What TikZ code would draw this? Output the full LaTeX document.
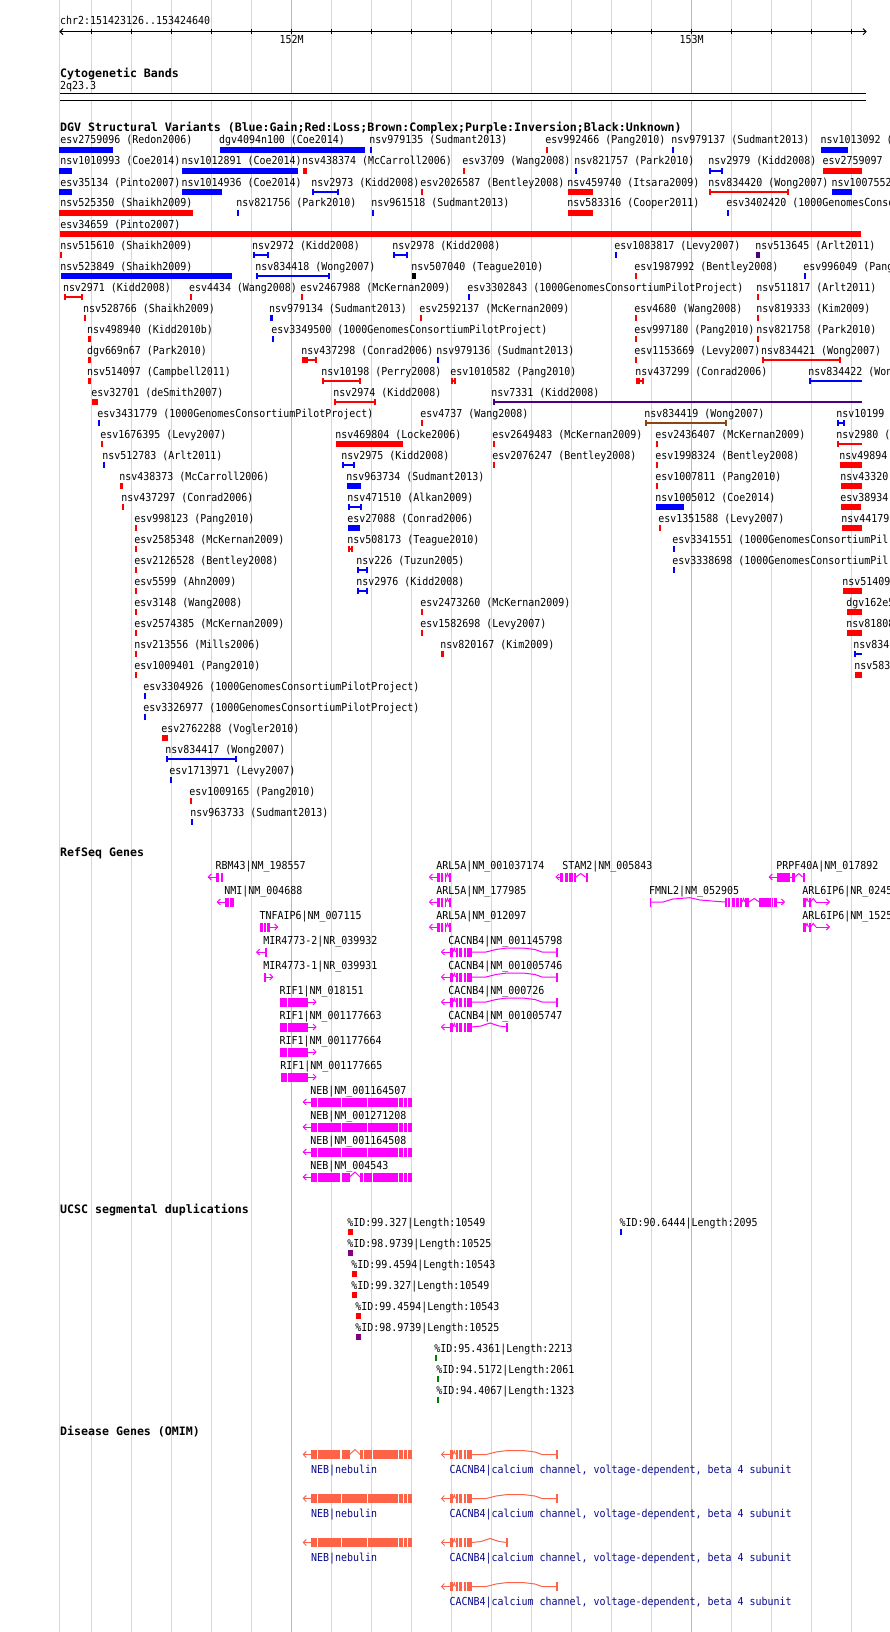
\documentclass[tikz,border=0pt]{standalone}
\usepackage{fontspec}
\newfontfamily\lblfont[FakeStretch=0.906]{DejaVu Sans Mono}
\newfontfamily\hdrfont{DejaVu Sans Mono}
\definecolor{gridc}{RGB}{170,232,240}
\definecolor{gridm}{RGB}{135,200,228}
\definecolor{dgvpurple}{RGB}{75,0,130}
\definecolor{dgvbrown}{RGB}{139,69,19}
\definecolor{sdpurple}{RGB}{128,0,128}
\definecolor{sdgreen}{RGB}{0,128,0}
\definecolor{omimc}{RGB}{255,99,71}
\definecolor{omimtxt}{RGB}{10,10,140}
\definecolor{genec}{RGB}{255,0,255}
\tikzset{
 lbl/.style={inner sep=0pt, anchor=base west, font=\lblfont\fontsize{11}{13}\selectfont},
 hdr/.style={inner sep=0pt, anchor=base west, font=\hdrfont\bfseries\fontsize{11.6}{13}\selectfont},
 gridline/.style={draw=gridc, line width=1pt},
 majorgrid/.style={draw=gridm, line width=1pt},
 genestyle/.style={genec, line width=1pt},
 omimstyle/.style={omimc, line width=1pt},
}
% DGV helpers: row, x, text / color,row,x1,x2
\newcommand\DL[3]{\node[lbl] at (#2,{144+21*#1}) {#3};}
\newcommand\DB[4]{\fill[#1] (#3,{147+21*#2}) rectangle (#4,{153+21*#2});}
\newcommand\DC[4]{\fill[#1] (#3,{149.3+21*#2}) rectangle (#4,{150.7+21*#2});
 \fill[#1] (#3,{147+21*#2}) rectangle ({#3+2},{153+21*#2});
 \fill[#1] ({#4-2},{147+21*#2}) rectangle (#4,{153+21*#2});}
\newcommand\DCL[4]{\fill[#1] (#3,{149.3+21*#2}) rectangle (#4,{150.7+21*#2});
 \fill[#1] (#3,{147+21*#2}) rectangle ({#3+2},{153+21*#2});}
% gene glyph helpers (inside a shifted scope, y=0 is glyph centre)
\newcommand\ex[2]{\fill (#1,-4.5) rectangle (#2,4.5);}
\newcommand\il[2]{\draw (#1,0) -- (#2,0);}
\newcommand\ltip[1]{\draw (#1+3,-3) -- (#1,0) -- (#1+3,3);}
\newcommand\rtip[1]{\draw (#1-3,-3) -- (#1,0) -- (#1-3,3);}
\newcommand\chev[2]{\draw (#1,0) -- ({(#1+#2)/2},-3.5) -- (#2,0);}
\newcommand\GS[3]{\begin{scope}[shift={(0,#2)},#1]#3\end{scope}}
\newcommand\ARLfive{\il{429.5}{437}\ltip{429.5}\ex{437}{439.5}\ex{440.5}{443}\ex{444.5}{446}\chev{446}{449}\ex{449}{450.5}}
\newcommand\CACNexons{\il{441.5}{449.5}\ltip{441.5}\ex{449.5}{453}\chev{453}{455.5}\ex{455.5}{457.5}\ex{459}{462}\ex{463.5}{466}\ex{467}{471.5}}
\newcommand\CACNlong{\CACNexons\draw (471.5,0) -- (486,0) -- (496,-2.5) -- (507,-4) -- (523,-4) -- (535,-2.5) -- (542,0) -- (557.5,0);\ex{556}{557.5}}
\newcommand\CACNshort{\CACNexons\draw (471.5,0) -- (481,-1) -- (490,-4) -- (499,-1) -- (507.5,0);\ex{506}{507.5}}
\newcommand\RIFone[1]{\ex{#1}{286.7}\ex{287.7}{308}\il{308}{316}\rtip{316}}
\newcommand\NEBfull{\il{303.3}{311}\ltip{303.3}\foreach \a/\b in {311/317,318/340.5,341.5/366.5,367.5/398,399/403,404/407,408/412}{\ex{\a}{\b}}}
\newcommand\NEBalt{\il{303.3}{311}\ltip{303.3}\foreach \a/\b in {311/316.5,317.5/340,341.5/349.5,360/363,364/371.5,372.5/398,399/403,404/407,408/412}{\ex{\a}{\b}}\draw (349.5,0) -- (355,-5) -- (360,0);}
\newcommand\SL[3]{\node[lbl] at (#2,{1226+21*#1}) {#3};}
\newcommand\SB[4]{\fill[#1] (#3,{1229.3+21*#2}) rectangle (#4,{1234.8+21*#2});}
\begin{document}
\begin{tikzpicture}[x=1pt,y=-1pt]
\useasboundingbox (0,0) rectangle (890,1632);
\fill[white] (0,0) rectangle (890,1632);
% grid
\draw[gridline] (59.5,0) -- (59.5,1632);
\foreach \k in {0,...,19} {\pgfmathsetmacro\gx{91.5+40*\k}\draw[gridline] (\gx,0) -- (\gx,1632);}
\draw[majorgrid] (291.5,0) -- (291.5,1632);
\draw[majorgrid] (691.5,0) -- (691.5,1632);
% ruler
\node[lbl] (chrlbl) at (60,25) {chr2:151423126..153424640};
\draw[line width=1pt] (60,31.7) -- (866,31.7);
\draw[line width=1pt] (63,28.7) -- (60,31.7) -- (63,34.7);
\draw[line width=1pt] (863,28.7) -- (866,31.7) -- (863,34.7);
\foreach \k in {0,...,19} {\pgfmathsetmacro\gx{91.5+40*\k}\draw[line width=1pt] (\gx,29.2) -- (\gx,34.2);}
\node[lbl,anchor=base] (m152) at (291.5,44) {152M};
\node[lbl,anchor=base] (m153) at (691.5,44) {153M};
% cytogenetic
\node[hdr] (cythdr) at (60,78) {Cytogenetic Bands};
\node[lbl] (band) at (60,89.3) {2q23.3};
\fill[white] (60,93.8) rectangle (866,100.2);
\draw[line width=1.2pt] (60,93.8) -- (866,93.8);
\draw[line width=1.2pt] (60,100.2) -- (866,100.2);
% DGV
\node[hdr] (dgvhdr) at (60,131.5) {DGV Structural Variants (Blue:Gain;Red:Loss;Brown:Complex;Purple:Inversion;Black:Unknown)};
\DL{0}{60.2}{esv2759096 (Redon2006)}\DB{blue}{0}{59.3}{113}
\DL{0}{218.8}{dgv4094n100 (Coe2014)}\DB{blue}{0}{220}{365}
\DL{0}{369.2}{nsv979135 (Sudmant2013)}\DB{blue}{0}{370}{372}
\DL{0}{545.2}{esv992466 (Pang2010)}\DB{red}{0}{546}{548}
\DL{0}{671.2}{nsv979137 (Sudmant2013)}\DB{blue}{0}{672}{674}
\DL{0}{820.5}{nsv1013092 (}\DB{blue}{0}{821}{848}
\DL{1}{60.2}{nsv1010993 (Coe2014)}\DB{blue}{1}{59.3}{72}
\DL{1}{181.5}{nsv1012891 (Coe2014)}\DB{blue}{1}{182}{298}
\DL{1}{301.8}{nsv438374 (McCarroll2006)}\DB{red}{1}{303}{307}
\DL{1}{462.2}{esv3709 (Wang2008)}\DB{red}{1}{463}{465}
\DL{1}{574.2}{nsv821757 (Park2010)}\DB{blue}{1}{575}{577}
\DL{1}{708.2}{nsv2979 (Kidd2008)}\DC{blue}{1}{709}{723}
\DL{1}{822.5}{esv2759097}\DB{red}{1}{823}{862}
\DL{2}{60.2}{esv35134 (Pinto2007)}\DB{blue}{2}{59.3}{72}
\DL{2}{181.5}{nsv1014936 (Coe2014)}\DB{blue}{2}{182}{222}
\DL{2}{311.2}{nsv2973 (Kidd2008)}\DC{blue}{2}{312}{339}
\DL{2}{420.2}{esv2026587 (Bentley2008)}\DB{red}{2}{421}{423}
\DL{2}{567.2}{nsv459740 (Itsara2009)}\DB{red}{2}{568}{593}
\DL{2}{708.2}{nsv834420 (Wong2007)}\DC{red}{2}{709}{789}
\DL{2}{831.5}{nsv1007552}\DB{blue}{2}{832}{852}
\DL{3}{60.2}{nsv525350 (Shaikh2009)}\DB{red}{3}{59.3}{193}
\DL{3}{236.2}{nsv821756 (Park2010)}\DB{blue}{3}{237}{239}
\DL{3}{371.2}{nsv961518 (Sudmant2013)}\DB{blue}{3}{372}{374}
\DL{3}{567.2}{nsv583316 (Cooper2011)}\DB{red}{3}{568}{593}
\DL{3}{726.2}{esv3402420 (1000GenomesConso}\DB{blue}{3}{727}{729}
\DL{4}{60.2}{esv34659 (Pinto2007)}\DB{red}{4}{60}{860.7}
\DL{5}{60.2}{nsv515610 (Shaikh2009)}\DB{red}{5}{60}{62}
\DL{5}{251.8}{nsv2972 (Kidd2008)}\DC{blue}{5}{253}{269}
\DL{5}{392.2}{nsv2978 (Kidd2008)}\DC{blue}{5}{393}{408}
\DL{5}{614.2}{esv1083817 (Levy2007)}\DB{blue}{5}{615}{617}
\DL{5}{755.2}{nsv513645 (Arlt2011)}\DB{dgvpurple}{5}{756}{760}
\DL{6}{60.2}{nsv523849 (Shaikh2009)}\DB{blue}{6}{61}{232}
\DL{6}{255.2}{nsv834418 (Wong2007)}\DC{blue}{6}{256}{330}
\DL{6}{411.2}{nsv507040 (Teague2010)}\DB{black}{6}{412}{416}
\DL{6}{634.2}{esv1987992 (Bentley2008)}\DB{red}{6}{635}{637}
\DL{6}{803.2}{esv996049 (Pang}\DB{blue}{6}{804}{806}
\DL{7}{62.8}{nsv2971 (Kidd2008)}\DC{red}{7}{64}{83}
\DL{7}{188.8}{esv4434 (Wang2008)}\DB{red}{7}{190}{192}
\DL{7}{300.2}{esv2467988 (McKernan2009)}\DB{red}{7}{301}{303}
\DL{7}{467.2}{esv3302843 (1000GenomesConsortiumPilotProject)}\DB{blue}{7}{468}{470}
\DL{7}{756.2}{nsv511817 (Arlt2011)}\DB{red}{7}{757}{759}
\DL{8}{82.8}{nsv528766 (Shaikh2009)}\DB{red}{8}{84}{86}
\DL{8}{268.8}{nsv979134 (Sudmant2013)}\DB{blue}{8}{270}{273}
\DL{8}{419.2}{esv2592137 (McKernan2009)}\DB{red}{8}{420}{422}
\DL{8}{634.2}{esv4680 (Wang2008)}\DB{red}{8}{635}{637}
\DL{8}{756.2}{nsv819333 (Kim2009)}\DB{red}{8}{757}{759}
\DL{9}{86.8}{nsv498940 (Kidd2010b)}\DB{red}{9}{88}{91}
\DL{9}{271.2}{esv3349500 (1000GenomesConsortiumPilotProject)}\DB{blue}{9}{272}{274}
\DL{9}{634.2}{esv997180 (Pang2010)}\DB{red}{9}{635}{637}
\DL{9}{756.2}{nsv821758 (Park2010)}\DB{red}{9}{757}{759}
\DL{10}{86.8}{dgv669n67 (Park2010)}\DB{red}{10}{88}{91}
\DL{10}{301.2}{nsv437298 (Conrad2006)}\DB{red}{10}{302}{308}\DC{red}{10}{302}{317}
\DL{10}{436.2}{nsv979136 (Sudmant2013)}\DB{blue}{10}{437}{439}
\DL{10}{634.2}{esv1153669 (Levy2007)}\DB{red}{10}{635}{637}
\DL{10}{760.8}{nsv834421 (Wong2007)}\DC{red}{10}{762}{840.7}
\DL{11}{86.8}{nsv514097 (Campbell2011)}\DB{red}{11}{88}{91}
\DL{11}{321.2}{nsv10198 (Perry2008)}\DC{red}{11}{322}{361}
\DL{11}{450.2}{esv1010582 (Pang2010)}\DC{red}{11}{451}{456}
\DL{11}{635.2}{nsv437299 (Conrad2006)}\DB{red}{11}{636}{640}\DC{red}{11}{636}{644}
\DL{11}{808.2}{nsv834422 (Won}\DCL{blue}{11}{809}{862}
\DL{12}{91.2}{esv32701 (deSmith2007)}\DB{red}{12}{92}{98}
\DL{12}{333.2}{nsv2974 (Kidd2008)}\DC{red}{12}{334}{376}
\DL{12}{491.2}{nsv7331 (Kidd2008)}\DCL{dgvpurple}{12}{492.7}{862}
\DL{13}{97.2}{esv3431779 (1000GenomesConsortiumPilotProject)}\DB{blue}{13}{98}{100}
\DL{13}{420.2}{esv4737 (Wang2008)}\DB{red}{13}{421}{423}
\DL{13}{644.2}{nsv834419 (Wong2007)}\DC{dgvbrown}{13}{645}{727}
\DL{13}{836.2}{nsv10199}\DC{blue}{13}{837}{845}
\DL{14}{100.2}{esv1676395 (Levy2007)}\DB{red}{14}{101}{103}
\DL{14}{335.2}{nsv469804 (Locke2006)}\DB{red}{14}{336}{403}
\DL{14}{492.2}{esv2649483 (McKernan2009)}\DB{red}{14}{493}{495}
\DL{14}{655.2}{esv2436407 (McKernan2009)}\DB{red}{14}{656}{658}
\DL{14}{836.2}{nsv2980 (}\DCL{red}{14}{837}{862}
\DL{15}{102.2}{nsv512783 (Arlt2011)}\DB{blue}{15}{103}{105}
\DL{15}{341.2}{nsv2975 (Kidd2008)}\DC{blue}{15}{342}{355}
\DL{15}{492.2}{esv2076247 (Bentley2008)}\DB{red}{15}{493}{495}
\DL{15}{655.2}{esv1998324 (Bentley2008)}\DB{red}{15}{656}{658}
\DL{15}{839.2}{nsv49894}\DB{red}{15}{840}{862}
\DL{16}{119.2}{nsv438373 (McCarroll2006)}\DB{red}{16}{120}{123}
\DL{16}{346.2}{nsv963734 (Sudmant2013)}\DB{blue}{16}{347}{361}
\DL{16}{655.2}{esv1007811 (Pang2010)}\DB{red}{16}{656}{658}
\DL{16}{840.2}{nsv43320}\DB{red}{16}{841}{862}
\DL{17}{121.2}{nsv437297 (Conrad2006)}\DB{red}{17}{122}{124}
\DL{17}{347.2}{nsv471510 (Alkan2009)}\DC{blue}{17}{348}{362}
\DL{17}{655.2}{nsv1005012 (Coe2014)}\DB{blue}{17}{656}{684}
\DL{17}{840.2}{esv38934}\DB{red}{17}{841}{861}
\DL{18}{134.2}{esv998123 (Pang2010)}\DB{red}{18}{135}{137}
\DL{18}{347.2}{esv27088 (Conrad2006)}\DB{blue}{18}{348}{360}
\DL{18}{658.2}{esv1351588 (Levy2007)}\DB{red}{18}{659}{661}
\DL{18}{841.2}{nsv44179}\DB{red}{18}{842}{862}
\DL{19}{134.2}{esv2585348 (McKernan2009)}\DB{red}{19}{135}{137}
\DL{19}{347.2}{nsv508173 (Teague2010)}\DC{red}{19}{348}{353}
\DL{19}{672.2}{esv3341551 (1000GenomesConsortiumPil}\DB{blue}{19}{673}{675}
\DL{20}{134.2}{esv2126528 (Bentley2008)}\DB{red}{20}{135}{137}
\DL{20}{356.2}{nsv226 (Tuzun2005)}\DC{blue}{20}{357}{368}
\DL{20}{672.2}{esv3338698 (1000GenomesConsortiumPil}\DB{blue}{20}{673}{675}
\DL{21}{134.2}{esv5599 (Ahn2009)}\DB{red}{21}{135}{137}
\DL{21}{356.2}{nsv2976 (Kidd2008)}\DC{blue}{21}{357}{368}
\DL{21}{842.2}{nsv51409}\DB{red}{21}{843}{862}
\DL{22}{134.2}{esv3148 (Wang2008)}\DB{red}{22}{135}{137}
\DL{22}{420.2}{esv2473260 (McKernan2009)}\DB{red}{22}{421}{423}
\DL{22}{846.2}{dgv162e5}\DB{red}{22}{847}{862}
\DL{23}{134.2}{esv2574385 (McKernan2009)}\DB{red}{23}{135}{137}
\DL{23}{420.2}{esv1582698 (Levy2007)}\DB{red}{23}{421}{423}
\DL{23}{846.2}{nsv81808}\DB{red}{23}{847}{862}
\DL{24}{134.2}{nsv213556 (Mills2006)}\DB{red}{24}{135}{137}
\DL{24}{440.2}{nsv820167 (Kim2009)}\DB{red}{24}{441}{444}
\DL{24}{853.2}{nsv834}\DCL{blue}{24}{854}{862}
\DL{25}{134.2}{esv1009401 (Pang2010)}\DB{red}{25}{135}{137}
\DL{25}{854.2}{nsv583}\DB{red}{25}{855}{862}
\DL{26}{143.2}{esv3304926 (1000GenomesConsortiumPilotProject)}\DB{blue}{26}{144}{146}
\DL{27}{143.2}{esv3326977 (1000GenomesConsortiumPilotProject)}\DB{blue}{27}{144}{146}
\DL{28}{161.2}{esv2762288 (Vogler2010)}\DB{red}{28}{162}{168}
\DL{29}{165.2}{nsv834417 (Wong2007)}\DC{blue}{29}{166}{237}
\DL{30}{169.2}{esv1713971 (Levy2007)}\DB{blue}{30}{170}{172}
\DL{31}{189.2}{esv1009165 (Pang2010)}\DB{red}{31}{190}{192}
\DL{32}{190.2}{nsv963733 (Sudmant2013)}\DB{blue}{32}{191}{193}
% RefSeq
\node[hdr] (refhdr) at (60,856.7) {RefSeq Genes};
\node[lbl] at (215.5,869) {RBM43|NM\_198557};
\GS{genestyle}{877}{\il{208.3}{216}\ltip{208.3}\ex{216}{219}\ex{220.5}{223}}
\node[lbl] at (436.2,869) {ARL5A|NM\_001037174};
\GS{genestyle}{877}{\ARLfive}
\node[lbl] at (562.2,869) {STAM2|NM\_005843};
\GS{genestyle}{877}{\il{556}{560}\ltip{556}\ex{560}{563}\ex{564.5}{567.5}\ex{569}{572.5}\ex{573.5}{576}\chev{576}{585.5}\ex{585.5}{587.5}}
\node[lbl] at (776.2,869) {PRPF40A|NM\_017892};
\GS{genestyle}{877}{\il{769.3}{777.3}\ltip{769.3}\ex{777.3}{790}\il{790}{792}\ex{792}{795}\chev{795}{802.5}\ex{802.5}{805}}
\node[lbl] at (224.2,894) {NMI|NM\_004688};
\GS{genestyle}{902}{\il{217.3}{225}\ltip{217.3}\ex{225}{229}\ex{230}{233.7}}
\node[lbl] at (436.2,894) {ARL5A|NM\_177985};
\GS{genestyle}{902}{\ARLfive}
\node[lbl] at (648.8,894) {FMNL2|NM\_052905};
\GS{genestyle}{902}{\ex{649.7}{651.2}\draw (651,0) -- (663,0) -- (673,-3) -- (690,-4.3) -- (700,-2) -- (712,-1) -- (725,0);
 \ex{725}{726.5}\ex{728}{730}\ex{732}{734.5}\ex{736}{738.5}\ex{740}{742}\chev{742}{745}\ex{745}{749}\chev{749}{759.3}\ex{759.3}{770.7}\ex{771.7}{773}\ex{774}{776.7}\il{776.7}{784.3}\rtip{784.3}}
\node[lbl] at (802.2,894) {ARL6IP6|NR\_0245};
\GS{genestyle}{902}{\ex{803.3}{805.5}\chev{805.5}{808.5}\ex{808.5}{810.5}\chev{810.5}{816}\il{816}{829.3}\rtip{829.3}}
\node[lbl] at (259.5,919) {TNFAIP6|NM\_007115};
\GS{genestyle}{927}{\ex{260}{262.5}\ex{263.5}{265.5}\ex{266.5}{270}\il{270}{277.7}\rtip{277.7}}
\node[lbl] at (436.2,919) {ARL5A|NM\_012097};
\GS{genestyle}{927}{\ARLfive}
\node[lbl] at (802.2,919) {ARL6IP6|NM\_1525};
\GS{genestyle}{927}{\ex{803.3}{805.5}\chev{805.5}{808.5}\ex{808.5}{810.5}\chev{810.5}{816}\il{816}{829.3}\rtip{829.3}}
\node[lbl] at (263.2,944) {MIR4773-2|NR\_039932};
\GS{genestyle}{952}{\il{256.7}{265}\ltip{256.7}\ex{265}{266.5}}
\node[lbl] at (448.2,944) {CACNB4|NM\_001145798};
\GS{genestyle}{952}{\CACNlong}
\node[lbl] at (263.2,969) {MIR4773-1|NR\_039931};
\GS{genestyle}{977}{\ex{264}{265.5}\il{265.5}{272.7}\rtip{272.7}}
\node[lbl] at (448.2,969) {CACNB4|NM\_001005746};
\GS{genestyle}{977}{\CACNlong}
\node[lbl] at (279.5,994) {RIF1|NM\_018151};
\GS{genestyle}{1002}{\RIFone{280}}
\node[lbl] at (448.2,994) {CACNB4|NM\_000726};
\GS{genestyle}{1002}{\CACNlong}
\node[lbl] at (279.5,1019) {RIF1|NM\_001177663};
\GS{genestyle}{1027}{\RIFone{280}}
\node[lbl] at (448.2,1019) {CACNB4|NM\_001005747};
\GS{genestyle}{1027}{\CACNshort}
\node[lbl] at (279.5,1044) {RIF1|NM\_001177664};
\GS{genestyle}{1052}{\RIFone{280}}
\node[lbl] at (280.2,1069) {RIF1|NM\_001177665};
\GS{genestyle}{1077}{\RIFone{281}}
\node[lbl] at (310.2,1094) {NEB|NM\_001164507};
\GS{genestyle}{1102}{\NEBfull}
\node[lbl] at (310.2,1119) {NEB|NM\_001271208};
\GS{genestyle}{1127}{\NEBfull}
\node[lbl] at (310.2,1144) {NEB|NM\_001164508};
\GS{genestyle}{1152}{\NEBfull}
\node[lbl] at (310.2,1169) {NEB|NM\_004543};
\GS{genestyle}{1177}{\NEBalt}
% UCSC segmental duplications
\node[hdr] (sdhdr) at (60,1213.5) {UCSC segmental duplications};
\SL{0}{347.2}{\%ID:99.327|Length:10549}\SB{red}{0}{348}{353}
\SL{0}{619.5}{\%ID:90.6444|Length:2095}\SB{blue}{0}{620}{622}
\SL{1}{347.2}{\%ID:98.9739|Length:10525}\SB{sdpurple}{1}{348}{353}
\SL{2}{351.2}{\%ID:99.4594|Length:10543}\SB{red}{2}{352}{357}
\SL{3}{351.2}{\%ID:99.327|Length:10549}\SB{red}{3}{352}{357}
\SL{4}{355.2}{\%ID:99.4594|Length:10543}\SB{red}{4}{356}{361}
\SL{5}{355.2}{\%ID:98.9739|Length:10525}\SB{sdpurple}{5}{356}{361}
\SL{6}{434.2}{\%ID:95.4361|Length:2213}\SB{sdgreen}{6}{435}{437}
\SL{7}{436.2}{\%ID:94.5172|Length:2061}\SB{sdgreen}{7}{437}{439}
\SL{8}{436.2}{\%ID:94.4067|Length:1323}\SB{sdgreen}{8}{437}{439}
% OMIM
\node[hdr] (omimhdr) at (60,1435.2) {Disease Genes (OMIM)};
\GS{omimstyle}{1454.5}{\NEBalt}
\GS{omimstyle}{1498.5}{\NEBfull}
\GS{omimstyle}{1542.5}{\NEBfull}
\GS{omimstyle}{1454.5}{\CACNlong}
\GS{omimstyle}{1498.5}{\CACNlong}
\GS{omimstyle}{1542.5}{\CACNshort}
\GS{omimstyle}{1586.5}{\CACNlong}
\foreach \r in {0,1,2} {\node[lbl,text=omimtxt] at (310.8,{1473.3+44*\r}) {NEB|nebulin};}
\foreach \r in {0,1,2,3} {\node[lbl,text=omimtxt] at (449.4,{1473.3+44*\r}) {CACNB4|calcium channel, voltage-dependent, beta 4 subunit};}
\end{tikzpicture}
\end{document}
